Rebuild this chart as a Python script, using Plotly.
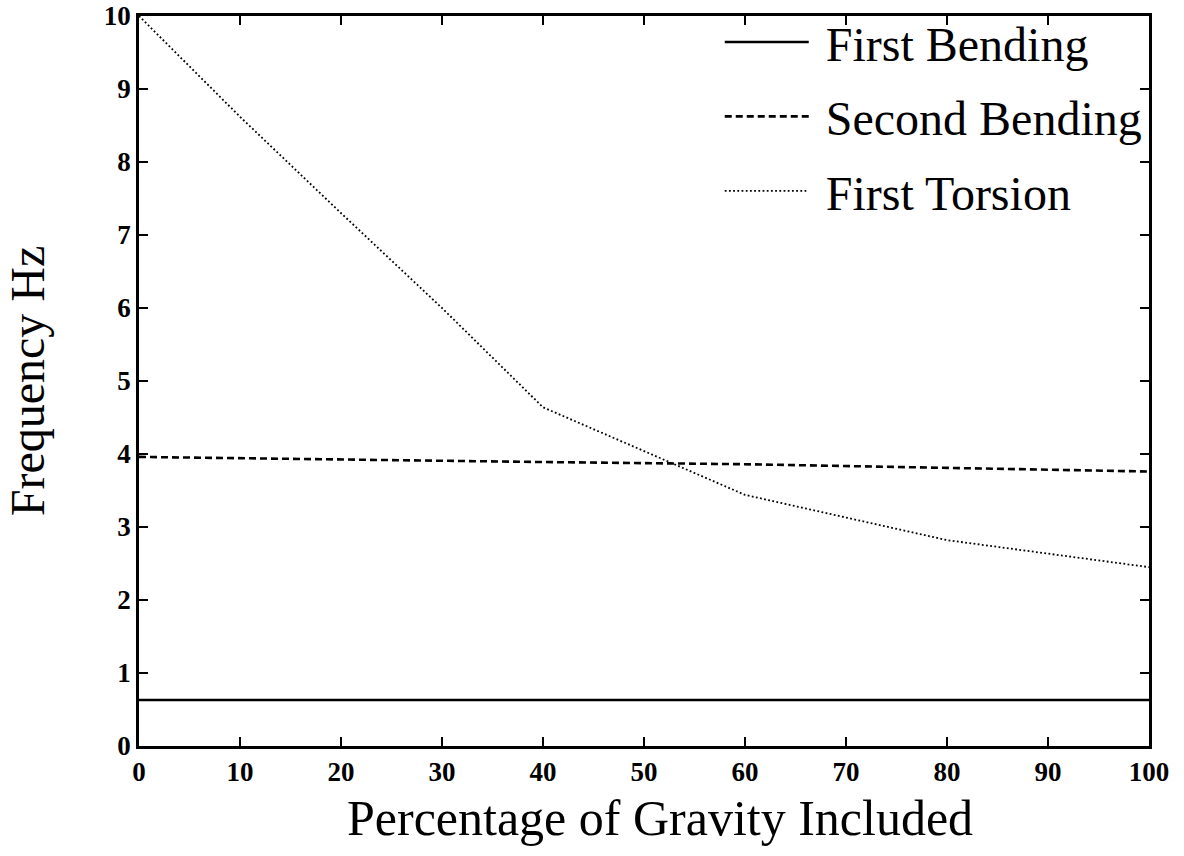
import plotly.graph_objects as go

gravity_pct = [0, 10, 20, 30, 40, 60, 80, 100]
first_bending = [0.63, 0.63, 0.63, 0.63, 0.63, 0.63, 0.63, 0.63]
second_bending = [3.96, 3.94, 3.92, 3.90, 3.89, 3.86, 3.81, 3.76]
first_torsion = [10.0, 8.62, 7.30, 6.00, 4.64, 3.44, 2.82, 2.45]

x_ticks = list(range(0, 101, 10))
y_ticks = list(range(0, 11))

serif = "Liberation Serif, Times New Roman, serif"
nb = "\u00a0"

fig = go.Figure()
fig.add_trace(go.Scatter(x=gravity_pct, y=first_bending, mode="lines", name=nb + "First Bending",
                         legendgroup="a", line=dict(color="black", width=2.5)))
fig.add_trace(go.Scatter(x=gravity_pct, y=second_bending, mode="lines", name=nb + "Second Bending",
                         legendgroup="b", line=dict(color="black", width=2.6, dash="7px,4px")))
fig.add_trace(go.Scatter(x=gravity_pct, y=first_torsion, mode="lines", name=nb + "First Torsion",
                         legendgroup="c", line=dict(color="black", width=1.8, dash="1.8px,2.4px")))

axis_common = dict(
    showgrid=False, zeroline=False, showline=True, linecolor="black", linewidth=2.8,
    mirror="allticks", ticks="inside", ticklen=9, tickwidth=2.2, tickcolor="black",
    tickfont=dict(family=serif, size=27, color="black", weight="bold"),
)

fig.update_layout(
    width=1184, height=856,
    margin=dict(l=139, r=35, t=16, b=110, autoexpand=False),
    paper_bgcolor="white", plot_bgcolor="white",
    xaxis=dict(range=[0, 100], tickvals=x_ticks, ticktext=[str(v) for v in x_ticks],
               **axis_common),
    yaxis=dict(range=[0, 10], tickvals=y_ticks, ticktext=[str(v) for v in y_ticks],
               title=dict(text="Frequency Hz", font=dict(family=serif, size=48, color="black"), standoff=44),
               **axis_common),
    legend=dict(x=0.575, y=1.016, xanchor="left", yanchor="top", bgcolor="rgba(0,0,0,0)",
                font=dict(family=serif, size=48, color="black"), traceorder="grouped",
                tracegroupgap=9, itemwidth=84),
    showlegend=True,
    annotations=[dict(text="Percentage of Gravity Included", xref="paper", yref="paper",
                      x=0.516, y=-0.099, xanchor="center", yanchor="middle", showarrow=False,
                      font=dict(family=serif, size=50, color="black"))],
)

fig.write_html("out.html")
